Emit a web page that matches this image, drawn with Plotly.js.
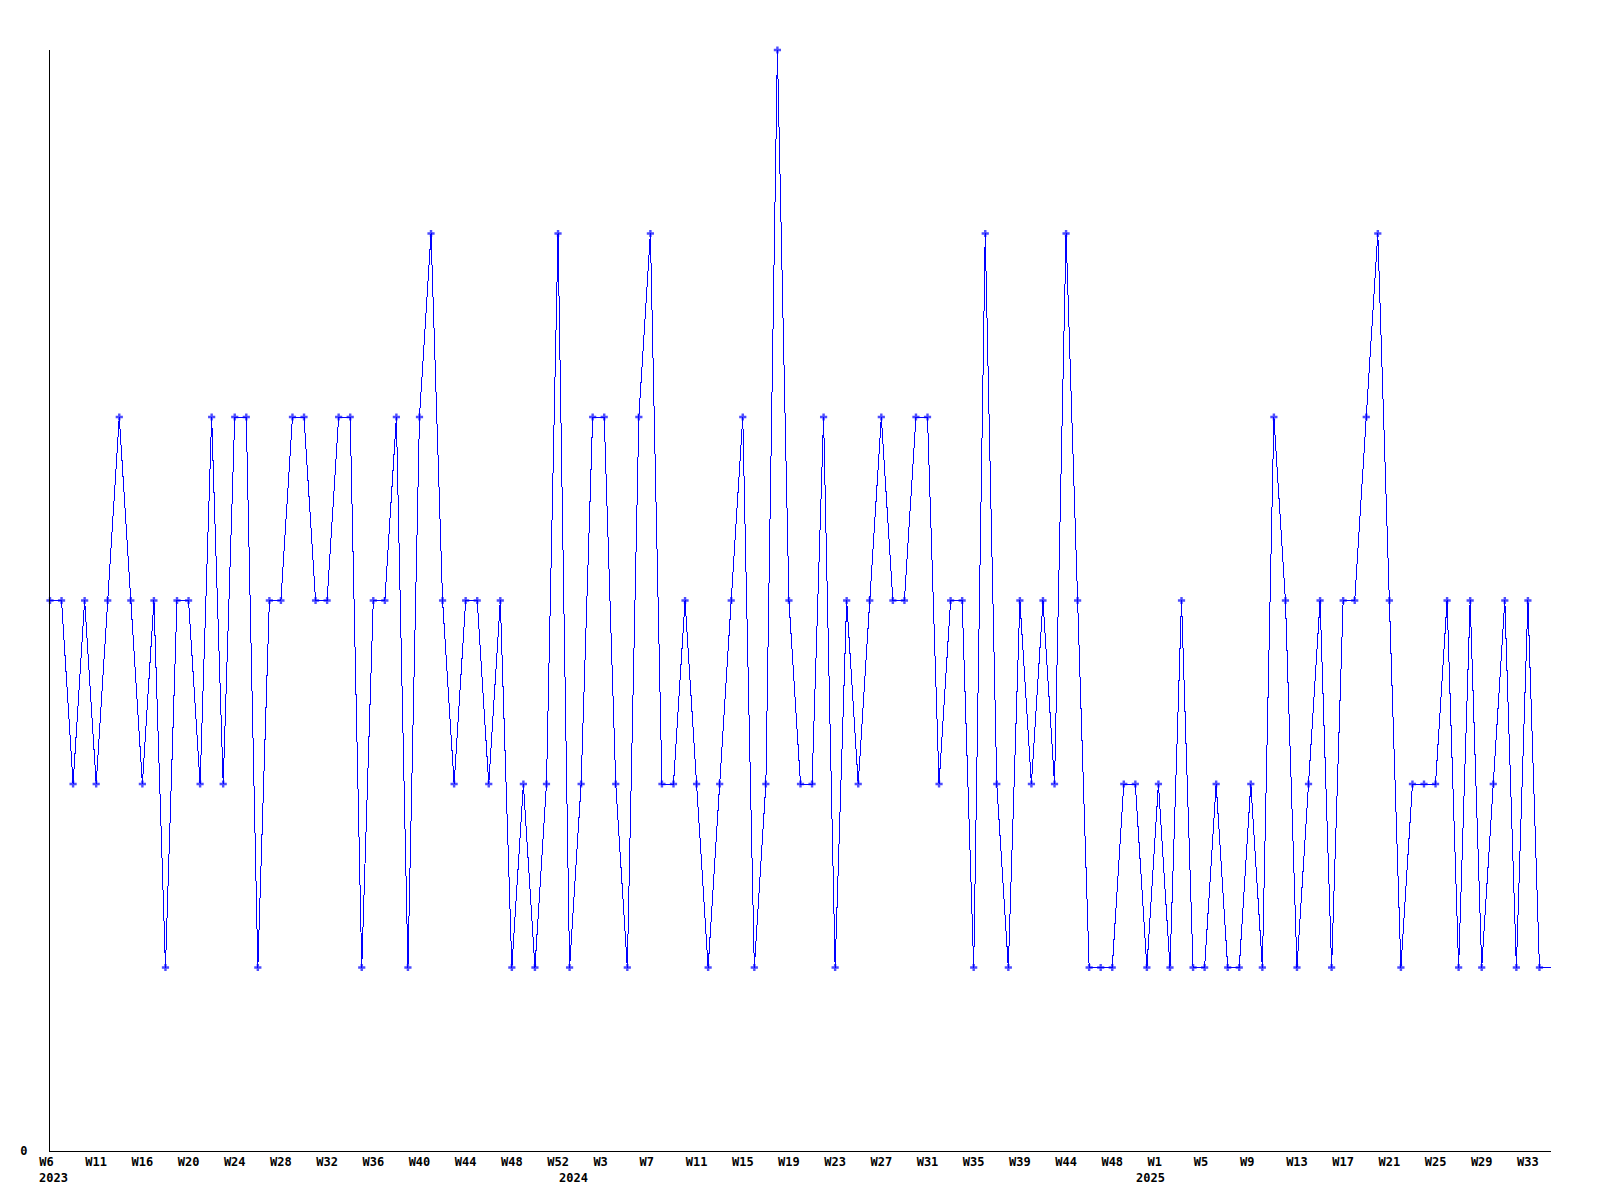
<!DOCTYPE html>
<html>
<head>
<meta charset="utf-8">
<script src="https://cdn.plot.ly/plotly-3.0.1.min.js"></script>
<style>
  html, body { margin: 0; padding: 0; background: #ffffff; }
  #chart { width: 1600px; height: 1200px; }
  .scatterlayer .js-line { shape-rendering: crispEdges; }
</style>
</head>
<body>
<div id="chart"></div>
<script>
// Weekly values, W6 2023 .. W33 2025 (last point is the running week, drawn without a marker)
var values = [3,3,2,3,2,3,4,3,2,3,1,3,3,2,4,2,4,4,1,3,3,4,4,3,3,4,4,1,3,3,4,1,4,5,3,2,3,3,2,3,
              1,2,1,2,5,1,2,4,4,2,1,4,5,2,2,3,2,1,2,3,4,1,2,6,3,2,2,4,1,3,2,3,4,3,3,4,4,2,3,3,
              1,5,2,1,3,2,3,2,5,3,1,1,1,2,2,1,2,1,3,1,1,2,1,1,2,1,4,3,1,2,3,1,3,3,4,5,3,1,2,2,
              2,3,1,3,1,2,3,1,3,1,1];

// Week tick labels, one every 4 points
var weekLabels = ["W6","W11","W16","W20","W24","W28","W32","W36","W40","W44","W48","W52",
                  "W3","W7","W11","W15","W19","W23","W27","W31","W35","W39","W44","W48",
                  "W1","W5","W9","W13","W17","W21","W25","W29","W33"];
var tickStep = 4;

// Year labels and the point index they sit under
var yearLabels = ["2023","2024","2025"];
var yearPos = [0.3, 45.3, 95.35];

var xs = [], sizes = [];
for (var i = 0; i < values.length; i++) {
  xs.push(i);
  sizes.push(i === values.length - 1 ? 0 : 6);
}
var tickvals = [], ticktext = [];
for (var k = 0; k < weekLabels.length; k++) {
  tickvals.push(k * tickStep);
  var t = weekLabels[k];
  while (t.length < 3) t = t + "\u00A0";
  ticktext.push(t);
}

var monoFont = {family: "DejaVu Sans Mono, monospace", size: 12, color: "#000000", weight: "bold"};

var trace = {
  x: xs,
  y: values,
  type: "scatter",
  mode: "lines+markers",
  line: {color: "#0000ff", width: 1},
  marker: {color: "#0000ff", symbol: "cross", size: sizes, line: {width: 0}},
  cliponaxis: false,
  hoverinfo: "x+y"
};

var annotations = yearLabels.map(function (lab, j) {
  return {
    text: lab, x: yearPos[j], xref: "x", y: 0, yref: "paper",
    xanchor: "center", yanchor: "top", yshift: -18, showarrow: false,
    font: monoFont
  };
});

var layout = {
  width: 1600, height: 1200,
  margin: {l: 50, r: 49, t: 50, b: 49, pad: 0},
  paper_bgcolor: "#ffffff", plot_bgcolor: "#ffffff",
  showlegend: false,
  xaxis: {
    range: [0, values.length - 1],
    showline: true, linecolor: "#000000", linewidth: 1,
    showgrid: false, zeroline: false,
    tickmode: "array", tickvals: tickvals, ticktext: ticktext,
    tickangle: 0, ticks: "", tickfont: monoFont
  },
  yaxis: {
    range: [0, 6],
    showline: true, linecolor: "#000000", linewidth: 1,
    showgrid: false, zeroline: false,
    tickmode: "array", tickvals: [0], ticktext: ["0"],
    ticks: "", ticklabelstandoff: 19, tickfont: monoFont
  },
  annotations: annotations
};

Plotly.newPlot("chart", [trace], layout, {displayModeBar: false, staticPlot: true});
</script>
</body>
</html>
